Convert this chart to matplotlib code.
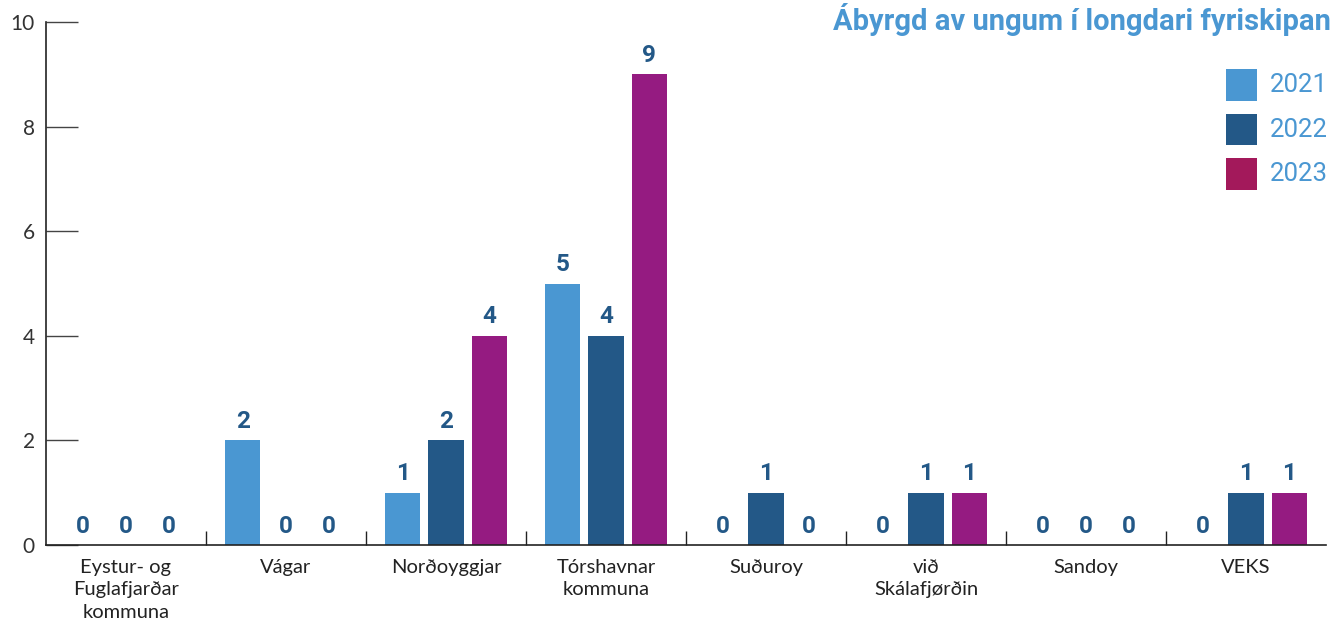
import numpy as np
import matplotlib
matplotlib.use('Agg')
import matplotlib.pyplot as plt
from matplotlib.patches import Rectangle

# Data
categories = ['Eystur- og\nFuglafjarðar\nkommuna', 'Vágar', 'Norðoyggjar',
              'Tórshavnar\nkommuna', 'Suðuroy', 'við\nSkálafjørðin', 'Sandoy', 'VEKS']
years = ['2021', '2022', '2023']
v2021 = [0, 2, 1, 5, 0, 0, 0, 0]
v2022 = [0, 0, 2, 4, 1, 1, 0, 1]
v2023 = [0, 0, 4, 9, 0, 1, 0, 1]
series = [v2021, v2022, v2023]

bar_colors = ['#4A97D2', '#235887', '#951B81']
legend_colors = ['#4A97D2', '#235887', '#A3195B']
label_color = '#235887'
title = 'Ábyrgd av ungum í longdari fyriskipan'

W, H = 1338, 626
fig = plt.figure(figsize=(W / 100, H / 100), dpi=100)
ax = fig.add_axes([46 / W, 81 / H, 1280 / W, 523 / H])

x = np.arange(len(categories))
offset = 0.27
width = 0.22
for i, vals in enumerate(series):
    xs = x + (i - 1) * offset
    ax.bar(xs, vals, width=width, color=bar_colors[i], zorder=2)
    for xi, v in zip(xs, vals):
        ax.text(xi, v + 0.14, str(v), ha='center', va='bottom',
                fontsize=17.5, fontweight='bold', color=label_color,
                family='Roboto')

ax.set_xlim(-0.5, len(categories) - 0.5)
ax.set_ylim(0, 10)

for s in ['top', 'right']:
    ax.spines[s].set_visible(False)
for s in ['left', 'bottom']:
    ax.spines[s].set_linewidth(1.2)
    ax.spines[s].set_color('#222222')

ax.set_yticks([0, 2, 4, 6, 8, 10])
ax.tick_params(axis='y', direction='in', length=23, width=1.0, color='#444444',
               labelsize=15, labelcolor='#333333', pad=8)
for lbl in ax.get_yticklabels():
    lbl.set_family('Lato')

ax.set_xticks(x)
ax.set_xticklabels(categories, fontsize=14.5, color='#222222', family='Lato',
                   linespacing=1.4)
ax.tick_params(axis='x', length=0, pad=10)
ax.set_xticks(np.arange(0.5, len(categories) - 0.5, 1), minor=True)
ax.tick_params(axis='x', which='minor', direction='in', length=10, width=1.0,
               color='#222222')

fig.text(1331 / W, 1 - 20 / H, title, ha='right', va='center', fontsize=21,
         fontweight='bold', color='#4A97D2', family='Roboto')

# legend: square swatches with year labels in light blue
for i, (yr, c) in enumerate(zip(years, legend_colors)):
    yc = 85 + i * 44.5
    fig.patches.append(Rectangle((1226 / W, 1 - (yc + 15.5) / H), 31 / W, 31 / H,
                                 transform=fig.transFigure, facecolor=c,
                                 edgecolor='none'))
    fig.text(1270 / W, 1 - yc / H, yr, ha='left', va='center', fontsize=18.5,
             color='#4A97D2', family='Roboto')

fig.savefig('out.png', dpi=100)
